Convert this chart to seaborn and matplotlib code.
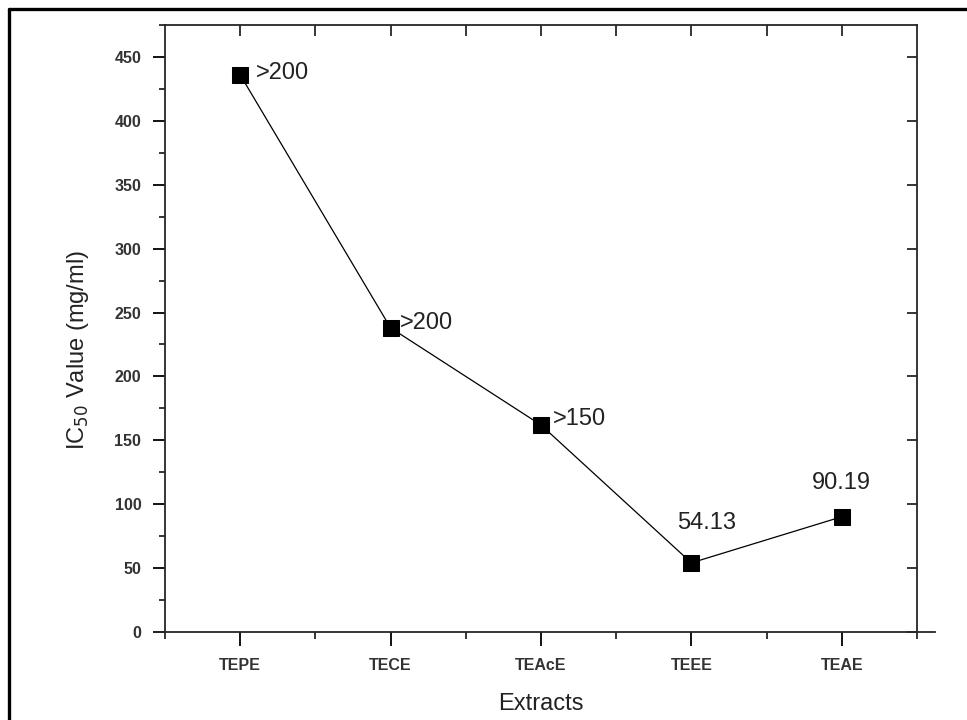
import numpy as np
import pandas as pd
import matplotlib
matplotlib.use("Agg")
import matplotlib.pyplot as plt
import seaborn as sns
from matplotlib.ticker import MultipleLocator, FixedLocator, NullLocator

# data
extracts = ["TEPE", "TECE", "TEAcE", "TEEE", "TEAE"]
ic50 = [436, 238, 162, 54.13, 90.19]
point_labels = [">200", ">200", ">150", "54.13", "90.19"]
y_ticks = list(range(0, 451, 50))

# where each point label sits (offset in points from the marker)
label_offsets = [(11, 1.5), (7, 3.5), (8.5, 4.5), (11, 29), (0, 24.5)]
label_ha = ["left", "left", "left", "center", "center"]

df = pd.DataFrame({"Extract": extracts, "IC50": ic50})

sns.set_style("ticks")
plt.rcParams["font.family"] = ["Liberation Sans", "DejaVu Sans"]

fig = plt.figure(figsize=(9.67, 7.2), dpi=100)
ax = fig.add_axes([0.1706, 0.1222, 0.7777, 0.8431])

sns.lineplot(data=df, x="Extract", y="IC50", sort=False, ax=ax,
             color="black", linewidth=0.9, marker="s", markersize=11,
             markerfacecolor="black", markeredgecolor="black")

for i, (lab, val) in enumerate(zip(point_labels, ic50)):
    ax.annotate(lab, (i, val), xytext=label_offsets[i], textcoords="offset points",
                ha=label_ha[i], va="center", fontsize=17, color="#222222")

ax.set_xlim(-0.5, len(extracts) - 0.5)
ax.set_ylim(0, 475)
ax.set_yticks(y_ticks)
ax.yaxis.set_minor_locator(MultipleLocator(25))
ax.set_xticks(range(len(extracts)))
ax.set_xticklabels(extracts)
ax.xaxis.set_minor_locator(FixedLocator(np.arange(-0.5, len(extracts), 1.0)))

ax.tick_params(axis="both", which="major", direction="out", width=1.3,
               labelsize=11.5, colors="black", labelcolor="#333333")
ax.tick_params(axis="y", which="major", length=9, pad=8)
ax.tick_params(axis="y", which="minor", length=4, width=1.3)
ax.tick_params(axis="x", which="major", length=10, pad=9)
ax.tick_params(axis="x", which="minor", length=5, width=1.3)
for t in ax.get_xticklabels() + ax.get_yticklabels():
    t.set_fontweight("bold")

ax.set_xlabel("Extracts", fontsize=17, labelpad=14, color="#222222")
ax.set_ylabel("IC$_{50}$ Value (mg/ml)", fontsize=17, color="#222222")
ax.yaxis.set_label_coords(-0.098, 0.465)

for side in ["left", "bottom", "right", "top"]:
    ax.spines[side].set_linewidth(1.3)
    ax.spines[side].set_visible(True)
ax.spines["bottom"].set_bounds(-0.57, 4.62)

# inward ticks on the top and right axes
top = ax.twiny()
top.set_xlim(ax.get_xlim())
top.set_xticks(range(len(extracts)))
top.xaxis.set_minor_locator(FixedLocator(np.arange(0.5, len(extracts) - 1, 1.0)))
top.tick_params(axis="x", which="both", direction="in", length=8, width=1.3,
                labeltop=False)
right = ax.twinx()
right.set_ylim(ax.get_ylim())
right.set_yticks(y_ticks)
right.yaxis.set_minor_locator(NullLocator())
right.tick_params(axis="y", which="both", direction="in", length=7, width=1.3,
                  labelright=False)
for a in (top, right):
    for s in a.spines.values():
        s.set_visible(False)

# outer frame of the figure
fig.add_artist(plt.Line2D([0.0093, 0.0093], [0, 0.9875], color="black", lw=2.4))
fig.add_artist(plt.Line2D([0.0093, 1.0], [0.9875, 0.9875], color="black", lw=2.4))

fig.savefig("out.png", dpi=100)
